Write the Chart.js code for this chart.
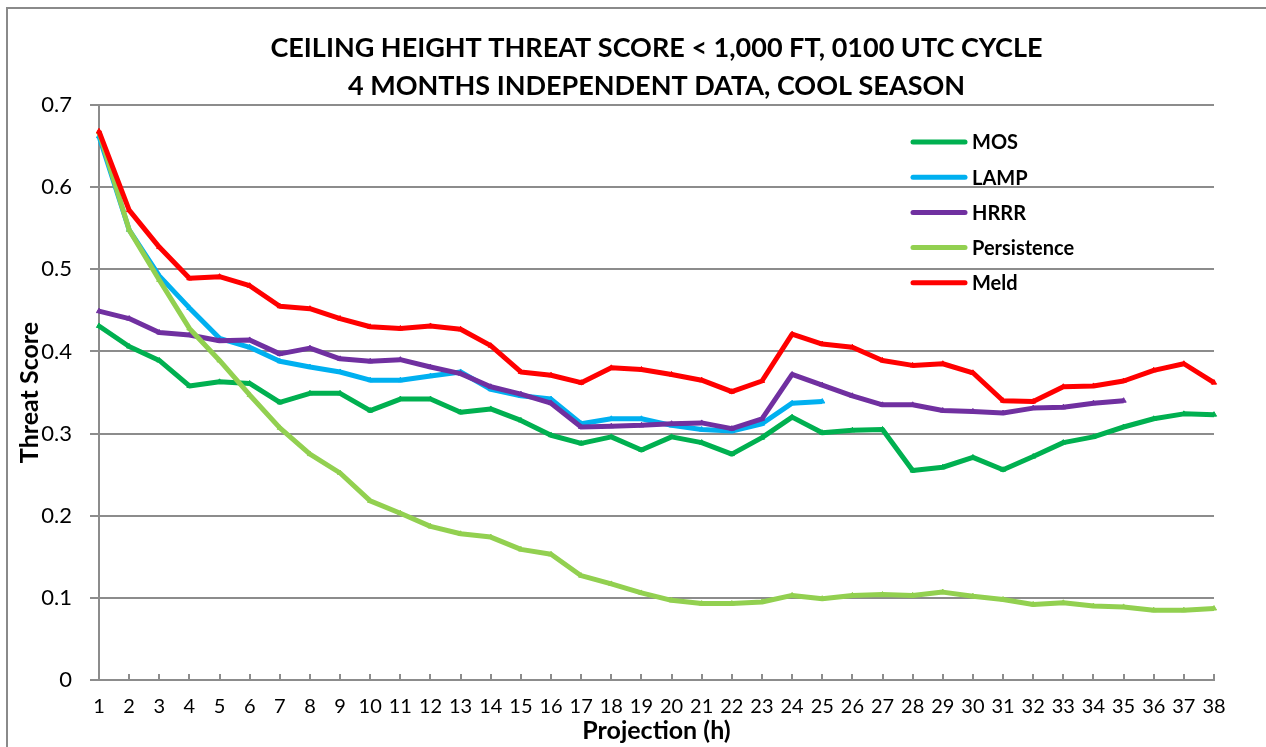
<!DOCTYPE html>
<html lang="en">

<head>
    <title>Ceiling Height Threat Score</title>
    <meta charset="utf-8">
    <script src="https://cdn.jsdelivr.net/npm/chart.js@4/dist/chart.umd.min.js"></script>
    <style>
        body { margin: 0; background: #fff; }
    </style>
</head>

<body>
    <canvas id="myChart" width="1266" height="747"></canvas>
    <script>
        // projection hours on the x axis
        var projections = ['1', '2', '3', '4', '5', '6', '7', '8', '9', '10', '11', '12', '13', '14', '15', '16', '17', '18', '19',
            '20', '21', '22', '23', '24', '25', '26', '27', '28', '29', '30', '31', '32', '33', '34', '35', '36', '37', '38'];

        var mos = [0.431, 0.406, 0.389, 0.358, 0.363, 0.361, 0.338, 0.349, 0.349, 0.328, 0.342, 0.342, 0.326, 0.330, 0.316, 0.298, 0.288, 0.296, 0.280,
            0.296, 0.289, 0.275, 0.295, 0.320, 0.301, 0.304, 0.305, 0.255, 0.259, 0.271, 0.256, 0.272, 0.289, 0.296, 0.308, 0.318, 0.324, 0.323];
        var lamp = [0.662, 0.548, 0.492, 0.453, 0.416, 0.405, 0.388, 0.381, 0.375, 0.365, 0.365, 0.370, 0.375, 0.354, 0.346, 0.342, 0.312, 0.318, 0.318,
            0.310, 0.305, 0.303, 0.312, 0.337, 0.339, null, null, null, null, null, null, null, null, null, null, null, null, null];
        var hrrr = [0.449, 0.440, 0.423, 0.420, 0.413, 0.414, 0.397, 0.404, 0.391, 0.388, 0.390, 0.381, 0.373, 0.357, 0.348, 0.337, 0.308, 0.309, 0.310,
            0.312, 0.313, 0.306, 0.318, 0.372, 0.359, 0.346, 0.335, 0.335, 0.328, 0.327, 0.325, 0.331, 0.332, 0.337, 0.340, null, null, null];
        var persistence = [0.667, 0.548, 0.487, 0.428, 0.389, 0.347, 0.307, 0.275, 0.252, 0.218, 0.203, 0.187, 0.178, 0.174, 0.159, 0.153, 0.127, 0.117, 0.106,
            0.097, 0.093, 0.093, 0.095, 0.103, 0.099, 0.103, 0.104, 0.103, 0.107, 0.102, 0.098, 0.092, 0.094, 0.090, 0.089, 0.085, 0.085, 0.087];
        var meld = [0.668, 0.572, 0.527, 0.489, 0.491, 0.480, 0.455, 0.452, 0.440, 0.430, 0.428, 0.431, 0.427, 0.407, 0.375, 0.371, 0.362, 0.380, 0.378,
            0.372, 0.365, 0.351, 0.364, 0.421, 0.409, 0.405, 0.389, 0.383, 0.385, 0.374, 0.340, 0.339, 0.357, 0.358, 0.364, 0.377, 0.385, 0.362];

        var seriesNames = ['MOS', 'LAMP', 'HRRR', 'Persistence', 'Meld'];
        var seriesData = [mos, lamp, hrrr, persistence, meld];
        var seriesColors = ['#00B050', '#00B0F0', '#7030A0', '#92D050', '#FF0000'];

        var titleLines = ['CEILING HEIGHT THREAT SCORE < 1,000 FT, 0100 UTC CYCLE', '4 MONTHS INDEPENDENT DATA, COOL SEASON'];
        var gridColor = '#8c8c8c';
        var fontName = 'Lato, "Open Sans", sans-serif';

        var datasets = [];
        for (var i = 0; i < seriesNames.length; i++) {
            datasets.push({
                label: seriesNames[i],
                data: seriesData[i],
                borderColor: seriesColors[i],
                backgroundColor: seriesColors[i],
                borderWidth: 5,
                borderJoinStyle: 'round',
                pointStyle: 'triangle',
                pointRadius: 3,
                pointBorderWidth: 1,
                tension: 0,
                spanGaps: false,
                order: seriesNames.length - i // later series on top, like the original
            });
        }

        // frame, inside x tick marks and the legend
        var extras = {
            id: 'extras',
            beforeDraw: function (chart) {
                var c = chart.ctx;
                c.save();
                c.strokeStyle = '#8a8a8a';
                c.lineWidth = 2;
                c.strokeRect(7, 8, chart.width + 20, chart.height + 20);
                c.restore();
            },
            afterDatasetsDraw: function (chart) {
                var c = chart.ctx;
                var xs = chart.scales.x;
                var area = chart.chartArea;
                c.save();
                c.strokeStyle = gridColor;
                c.lineWidth = 2;
                for (var i = 1; i < xs.ticks.length; i++) {
                    var px = Math.round(xs.getPixelForTick(i));
                    c.beginPath();
                    c.moveTo(px, area.bottom - 6);
                    c.lineTo(px, area.bottom);
                    c.stroke();
                }
                // legend
                var lx = 913, ly = 142, step = 35.2;
                c.font = 'bold 20px ' + fontName;
                c.textBaseline = 'middle';
                c.textAlign = 'left';
                c.lineCap = 'round';
                chart.data.datasets.forEach(function (ds, k) {
                    var y = ly + k * step;
                    c.strokeStyle = ds.borderColor;
                    c.lineWidth = 5;
                    c.beginPath();
                    c.moveTo(lx, y);
                    c.lineTo(lx + 52, y);
                    c.stroke();
                    c.fillStyle = '#000';
                    c.fillText(ds.label, lx + 59, y + 1);
                });
                c.restore();
            }
        };

        var ctx = document.getElementById('myChart').getContext('2d');
        var chart = new Chart(ctx, {
            type: 'line',
            data: {
                labels: projections,
                datasets: datasets
            },
            plugins: [extras],
            options: {
                responsive: false,
                animation: false,
                layout: { padding: { left: 0, right: 52, top: 0, bottom: 0 } },
                plugins: {
                    legend: { display: false },
                    tooltip: { enabled: false },
                    title: {
                        display: true,
                        fullSize: false,
                        text: titleLines,
                        color: '#000',
                        font: { family: fontName, size: 27, weight: 'bold', lineHeight: '38px' },
                        padding: { top: 29, bottom: 0 }
                    }
                },
                scales: {
                    x: {
                        type: 'category',
                        offset: false,
                        grid: { drawOnChartArea: false, drawTicks: false },
                        border: { display: true, color: gridColor, width: 2 },
                        ticks: {
                            color: '#000',
                            font: { family: fontName, size: 20 },
                            padding: 15,
                            maxRotation: 0,
                            autoSkip: false
                        },
                        title: {
                            display: true,
                            text: 'Projection (h)',
                            color: '#000',
                            font: { family: fontName, size: 25, weight: 'bold' },
                            padding: { top: 0, bottom: 1 }
                        },
                        afterFit: function (scale) { scale.height = 67; }
                    },
                    y: {
                        min: 0,
                        max: 0.7,
                        grid: { color: gridColor, lineWidth: 2, tickLength: 9 },
                        border: { display: true, color: gridColor, width: 2 },
                        ticks: {
                            stepSize: 0.1,
                            color: '#000',
                            font: { family: fontName, size: 22 },
                            padding: 18,
                            callback: function (v) { return v === 0 ? '0' : Number(v).toFixed(1); }
                        },
                        title: {
                            display: true,
                            text: 'Threat Score',
                            color: '#000',
                            font: { family: fontName, size: 25, weight: 'bold' },
                            padding: { top: 15, bottom: 0 }
                        },
                        afterFit: function (scale) { scale.width = 99; }
                    }
                }
            }
        });
    </script>
</body>

</html>
